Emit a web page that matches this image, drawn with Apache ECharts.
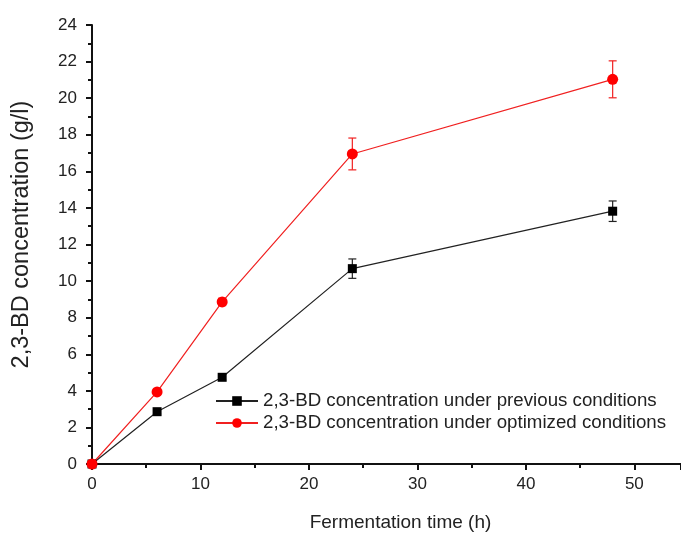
<!DOCTYPE html>
<html>
<head>
<meta charset="utf-8">
<script src="https://cdn.jsdelivr.net/npm/echarts@6/dist/echarts.min.js"></script>
<style>
  html, body { margin: 0; padding: 0; background: #fff; }
  #chart { width: 681px; height: 534px; }
</style>
</head>
<body>
<div id="chart"></div>
<script>
// fermentation time (h)
var times = [0, 6, 12, 24, 48];
// 2,3-BD concentration (g/l)
var prevValues = [0, 2.86, 4.74, 10.68, 13.82];
var prevErr = [0, 0.12, 0.15, 0.53, 0.56];
var optValues = [0, 3.94, 8.86, 16.95, 21.03];
var optErr = [0, 0.12, 0.2, 0.87, 1.01];

var prevName = '2,3-BD concentration under previous conditions';
var optName = '2,3-BD concentration under optimized conditions';

var pairs = function (xs, ys) {
    return xs.map(function (x, i) { return [x, ys[i]]; });
};

var errData = function (xs, ys, es) {
    return xs.map(function (x, i) { return [x, ys[i] - es[i], ys[i] + es[i]]; });
};

var errorBars = function (color) {
    return function (params, api) {
        var low = api.coord([api.value(0), api.value(1)]);
        var high = api.coord([api.value(0), api.value(2)]);
        var cap = 4;
        var style = { stroke: color, lineWidth: 1.2 };
        return {
            type: 'group',
            children: [
                { type: 'line', shape: { x1: low[0], y1: low[1], x2: high[0], y2: high[1] }, style: style },
                { type: 'line', shape: { x1: low[0] - cap, y1: low[1], x2: low[0] + cap, y2: low[1] }, style: style },
                { type: 'line', shape: { x1: high[0] - cap, y1: high[1], x2: high[0] + cap, y2: high[1] }, style: style }
            ]
        };
    };
};

var font = 'Liberation Sans, Arial, sans-serif';

var option = {
    backgroundColor: '#fff',
    animation: false,
    grid: { left: 92, right: 0, top: 25, bottom: 70, outerBoundsMode: 'none' },
    legend: {
        data: [prevName, optName],
        orient: 'vertical',
        left: 210,
        top: 386,
        itemWidth: 42,
        itemHeight: 12,
        itemGap: 2,
        textStyle: { fontFamily: font, fontSize: 18.7, color: '#222', lineHeight: 20 }
    },
    xAxis: {
        type: 'value',
        min: 0,
        max: 54.3,
        interval: 10,
        name: 'Fermentation time (h)',
        nameLocation: 'middle',
        nameGap: 49,
        nameTextStyle: { fontFamily: font, fontSize: 19, color: '#222', padding: [0, 0, 0, 28] },
        axisLine: { lineStyle: { color: '#111', width: 2 } },
        axisTick: { length: 6, lineStyle: { color: '#111', width: 2 } },
        minorTick: { show: true, splitNumber: 2, length: 4, lineStyle: { color: '#111', width: 2 } },
        axisLabel: { fontFamily: font, fontSize: 17, color: '#222', margin: 12, showMaxLabel: false },
        splitLine: { show: false }
    },
    yAxis: {
        type: 'value',
        min: 0,
        max: 24,
        interval: 2,
        name: '2,3-BD concentration (g/l)',
        nameLocation: 'middle',
        nameGap: 58,
        nameTextStyle: { fontFamily: font, fontSize: 23.5, color: '#222', padding: [0, 0, 0, 20] },
        axisLine: { show: true, lineStyle: { color: '#111', width: 2 } },
        axisTick: { show: true, length: 6, lineStyle: { color: '#111', width: 2 } },
        minorTick: { show: true, splitNumber: 2, length: 4, lineStyle: { color: '#111', width: 2 } },
        axisLabel: { fontFamily: font, fontSize: 17, color: '#222', margin: 15 },
        splitLine: { show: false }
    },
    series: [
        {
            name: prevName,
            type: 'line',
            data: pairs(times, prevValues),
            symbol: 'rect',
            symbolSize: 9,
            z: 3,
            itemStyle: { color: '#000' },
            lineStyle: { color: '#222', width: 1.2 }
        },
        {
            name: optName,
            type: 'line',
            data: pairs(times, optValues),
            symbol: 'circle',
            symbolSize: 11,
            z: 3,
            itemStyle: { color: '#ff0000' },
            lineStyle: { color: '#f02020', width: 1.2 }
        },
        {
            type: 'custom',
            renderItem: errorBars('#222'),
            data: errData(times, prevValues, prevErr),
            encode: { x: 0, y: [1, 2] },
            z: 2
        },
        {
            type: 'custom',
            renderItem: errorBars('#f02020'),
            data: errData(times, optValues, optErr),
            encode: { x: 0, y: [1, 2] },
            z: 2
        }
    ]
};

var chart = echarts.init(document.getElementById('chart'));
chart.setOption(option);
</script>
</body>
</html>
